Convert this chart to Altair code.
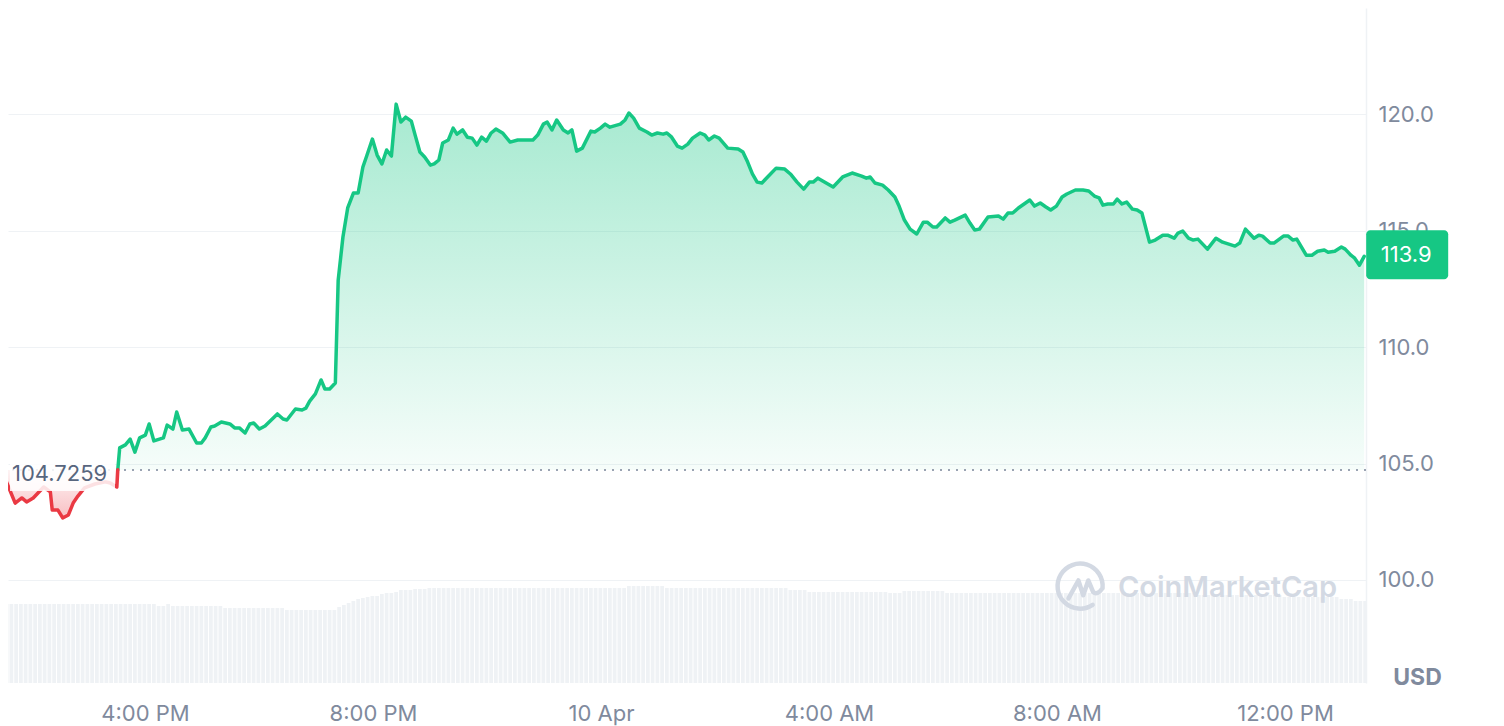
import altair as alt
import pandas as pd

# ---------------- data ----------------
START = "2024-04-09 13:27:24"
BASELINE = 104.7259
CROSS_MINUTE = 124  # where the price crosses the opening (baseline) value

MINUTES = [
    0, 3, 16, 23, 28, 35, 39, 46, 53, 55, 61, 66, 72, 77, 82, 89, 100, 111, 116, 123, 124,
    126, 132, 137, 142, 147, 153, 157, 162, 172, 176, 182, 186, 192, 199, 207, 212, 216, 222, 226, 233,
    242, 247, 252, 258, 263, 267, 273, 279, 292, 298, 302, 311, 318, 322, 326, 332, 338, 342, 347, 353,
    356, 361, 366, 372, 377, 382, 386, 392, 397, 402, 407, 412, 417, 422, 427, 433, 437, 442, 447, 453,
    457, 462, 466, 472, 477, 481, 487, 492, 497, 502, 507, 512, 517, 522, 529, 537, 545, 561, 566, 572,
    576, 581, 586, 593, 598, 602, 607, 613, 622, 626, 632, 637, 642, 653, 658, 662, 667, 673, 681, 686,
    692, 698, 702, 707, 713, 718, 724,
    729, 737, 742, 746, 752, 757, 766, 777, 782, 787, 792, 797, 802, 808, 817, 826, 832, 839, 846, 852,
    856, 861, 866, 877, 887, 897, 907, 912, 916, 921, 929, 935, 942, 946, 952, 958, 965, 972, 976, 982,
    986, 995, 1000, 1005, 1016, 1021, 1026, 1031, 1040, 1051, 1056, 1061, 1066, 1072, 1084, 1089, 1095, 1101, 1106, 1112,
    1118, 1123, 1132, 1140, 1146, 1152, 1157, 1161, 1166, 1172, 1176, 1181, 1186, 1192, 1197, 1202, 1210, 1216, 1224, 1229,
    1236, 1240, 1245, 1251, 1256, 1261, 1271, 1280, 1287, 1300, 1305, 1311, 1320, 1325, 1329, 1337, 1341, 1351, 1356, 1361,
    1365, 1375, 1381, 1387, 1394, 1398, 1405, 1412, 1416, 1422, 1426, 1431, 1436,
]

PRICES = [
    104.76, 104.59, 103.30, 103.52, 103.35, 103.52, 103.69, 103.99, 103.78, 103.00, 103.00, 102.66, 102.79, 103.30, 103.60, 103.95, 104.12, 104.21, 104.16, 103.99, 104.73,
    105.67, 105.80, 106.05, 105.49, 106.10, 106.22, 106.70, 105.97, 106.10, 106.65, 106.48, 107.21, 106.44, 106.48, 105.88, 105.88, 106.10, 106.57, 106.61, 106.78,
    106.70, 106.53, 106.53, 106.31, 106.70, 106.74, 106.48, 106.61, 107.13, 106.91, 106.87, 107.34, 107.30, 107.38, 107.68, 107.99, 108.59, 108.20, 108.20, 108.46,
    112.88, 114.73, 115.98, 116.62, 116.62, 117.74, 118.21, 118.94, 118.25, 117.87, 118.47, 118.21, 120.44, 119.67, 119.88, 119.71, 119.11, 118.38, 118.17, 117.82,
    117.87, 118.04, 118.77, 118.90, 119.41, 119.15, 119.33, 119.02, 118.98, 118.68, 119.02, 118.85, 119.20, 119.37, 119.20, 118.81, 118.90, 118.90, 119.11, 119.58,
    119.67, 119.33, 119.76, 119.33, 119.20, 119.33, 118.42, 118.55, 119.28, 119.24, 119.41, 119.58, 119.45, 119.58, 119.76, 120.06, 119.84, 119.41, 119.24, 119.11,
    119.20, 119.15, 119.20, 119.02, 118.64, 118.55, 118.72,
    118.98, 119.20, 119.11, 118.90, 119.07, 118.98, 118.55, 118.51, 118.38, 117.95, 117.44, 117.09, 117.05, 117.31, 117.69, 117.65, 117.44, 117.09, 116.79, 117.09,
    117.09, 117.26, 117.14, 116.88, 117.31, 117.48, 117.35, 117.26, 117.31, 117.05, 116.96, 116.75, 116.45, 116.10, 115.46, 115.07, 114.86, 115.37, 115.37, 115.16,
    115.16, 115.55, 115.37, 115.46, 115.67, 115.33, 115.03, 115.07, 115.59, 115.63, 115.50, 115.76, 115.76, 115.98, 116.32, 116.06, 116.19, 116.02, 115.89, 116.06,
    116.45, 116.58, 116.75, 116.75, 116.71, 116.49, 116.41, 116.10, 116.15, 116.15, 116.36, 116.15, 116.23, 115.93, 115.89, 115.76, 114.51, 114.60, 114.81, 114.81,
    114.68, 114.90, 114.99, 114.68, 114.60, 114.64, 114.21, 114.68, 114.51, 114.34, 114.47, 115.07, 114.68, 114.81, 114.77, 114.47, 114.47, 114.77, 114.77, 114.60,
    114.64, 113.95, 113.95, 114.12, 114.17, 114.08, 114.12, 114.30, 114.21, 113.95, 113.82, 113.52, 113.90,
]

# rolling 24h volume, one value per 5-minute slot (relative units), 12 per hour
VOLUME = [
    79, 79, 79, 79, 79, 79, 79, 79, 79, 79, 79, 79,
    79, 79, 79, 79, 79, 79, 79, 79, 79, 79, 79, 79,
    79, 79, 79, 79, 79, 79, 79, 79, 79, 77, 77, 79,
    77, 77, 77, 77, 77, 77, 77, 77, 77, 77, 77, 75,
    75, 75, 75, 75, 75, 75, 75, 75, 75, 75, 75, 75,
    73, 73, 73, 73, 73, 73, 73, 73, 73, 73, 73, 76,
    78, 80, 82, 84, 85, 86, 87, 87, 89, 90, 90, 91,
    93, 93, 93, 94, 94, 94, 95, 95, 95, 95, 95, 95,
    95, 95, 95, 95, 95, 95, 95, 95, 95, 95, 95, 95,
    95, 95, 95, 95, 95, 95, 95, 95, 95, 95, 95, 95,
    95, 95, 95, 95, 95, 95, 95, 95, 95, 95, 95, 95,
    97, 97, 97, 97, 97, 97, 97, 97, 95, 95, 95, 95,
    95, 95, 95, 95, 95, 95, 95, 95, 95, 95, 95, 95,
    95, 95, 95, 95, 95, 95, 95, 95, 95, 95, 93, 93,
    93, 93, 91, 91, 91, 91, 91, 91, 91, 91, 91, 91,
    91, 91, 91, 91, 91, 91, 91, 90, 90, 90, 92, 92,
    92, 92, 92, 92, 92, 92, 92, 90, 90, 90, 90, 90,
    90, 90, 90, 90, 90, 90, 90, 90, 90, 90, 90, 90,
    90, 90, 90, 90, 90, 90, 90, 90, 90, 90, 90, 90,
    90, 90, 90, 90, 90, 90, 90, 90, 90, 90, 90, 90,
    90, 90, 90, 90, 90, 90, 90, 90, 90, 90, 90, 90,
    88, 88, 88, 88, 88, 88, 88, 88, 88, 88, 88, 88,
    88, 88, 88, 88, 88, 88, 86, 86, 86, 86, 86, 86,
    86, 86, 86, 86, 86, 86, 84, 84, 84, 82, 82, 82,
]

Y_TICKS = [100, 105, 110, 115, 120]
X_TICK_HOURS = [(9, 16), (9, 20), (10, 0), (10, 4), (10, 8), (10, 12)]

assert len(MINUTES) == len(PRICES)

# ---------------- frames ----------------
t0 = pd.Timestamp(START)
price_df = pd.DataFrame({
    "time": t0 + pd.to_timedelta(MINUTES, unit="min"),
    "price": PRICES,
})
cross_t = t0 + pd.Timedelta(minutes=CROSS_MINUTE)
down_df = price_df[price_df["time"] <= cross_t]
up_df = price_df[price_df["time"] >= cross_t]
last_df = price_df.tail(1)

slot_start = t0 + pd.to_timedelta([5 * i for i in range(len(VOLUME))], unit="min")
vol_df = pd.DataFrame({
    "start": slot_start,
    "end": slot_start + pd.Timedelta(minutes=5),
    "volume": VOLUME,
})

X_DOMAIN = [
    alt.DateTime(year=2024, month=4, date=9, hours=13, minutes=35, seconds=50),
    alt.DateTime(year=2024, month=4, date=10, hours=13, minutes=25, seconds=18),
]
base_df = pd.DataFrame({"time": [pd.Timestamp("2024-04-09 13:35:50")], "price": [BASELINE]})

W, H = 1358, 675
GREEN = "#16c784"
RED = "#ea3943"
GRAY = "#808a9d"
FONT = "Inter"

X_AXIS = alt.Axis(
    values=[alt.DateTime(year=2024, month=4, date=d, hours=h) for d, h in X_TICK_HOURS],
    labelExpr="hours(datum.value) == 0 ? timeFormat(datum.value, '%-d %b') : timeFormat(datum.value, '%-I:%M %p')",
    title=None, grid=False, ticks=False, domain=False,
    labelFont=FONT, labelFontSize=22, labelColor=GRAY, labelPadding=20,
    labelOverlap=False, labelFlush=False,
)
Y_AXIS = alt.Axis(
    orient="right", values=Y_TICKS, format=".1f",
    grid=True, gridColor="#eff2f5", gridWidth=1,
    ticks=False, domain=True, domainColor="#eff2f5", domainWidth=1.5,
    labelFont=FONT, labelFontSize=22, labelColor=GRAY, labelPadding=12,
    title="USD", titleAngle=0, titleFont=FONT, titleFontSize=23, titleFontWeight="bold",
    titleColor=GRAY, titleAlign="center", titleBaseline="alphabetic", titleX=51, titleY=676,
)
x_enc = alt.X("time:T", scale=alt.Scale(domain=X_DOMAIN), axis=X_AXIS)
y_enc = alt.Y("price:Q", scale=alt.Scale(domain=[95.57, 124.57], nice=False, zero=False), axis=Y_AXIS)

# ---------------- volume (own scale, bars rise from the bottom) ----------------
VOL_SCALE_MAX = 675
volume = alt.Chart(vol_df).mark_bar(color="#eff2f5", clip=True, x2Offset=-1).encode(
    x=alt.X("start:T", scale=alt.Scale(domain=X_DOMAIN), axis=X_AXIS),
    x2="end:T",
    y=alt.Y("volume:Q", scale=alt.Scale(domain=[0, VOL_SCALE_MAX], nice=False), axis=None),
    y2=alt.datum(0),
)

# ---------------- price ----------------
green_fill = alt.Gradient(
    gradient="linear", x1=0, x2=0, y1=0, y2=1,
    stops=[alt.GradientStop(color="rgba(22,199,132,0.38)", offset=0),
           alt.GradientStop(color="rgba(22,199,132,0.04)", offset=1)],
)
red_fill = alt.Gradient(
    gradient="linear", x1=0, x2=0, y1=0, y2=1,
    stops=[alt.GradientStop(color="rgba(234,57,67,0.05)", offset=0),
           alt.GradientStop(color="rgba(234,57,67,0.32)", offset=1)],
)

up_area = alt.Chart(up_df).mark_area(color=green_fill, clip=True).encode(
    x=x_enc, y=y_enc, y2=alt.datum(BASELINE))
down_area = alt.Chart(down_df).mark_area(color=red_fill, clip=True).encode(
    x=x_enc, y=y_enc, y2=alt.datum(BASELINE))

base_rule = alt.Chart(base_df).mark_rule(
    color="#9aa3b2", strokeWidth=2, strokeDash=[2, 6]).encode(y=alt.Y("price:Q"))

up_line = alt.Chart(up_df).mark_line(
    color=GREEN, strokeWidth=3.5, strokeJoin="round", strokeCap="round", clip=True).encode(x=x_enc, y=y_enc)
down_line = alt.Chart(down_df).mark_line(
    color=RED, strokeWidth=3.5, strokeJoin="round", strokeCap="round", clip=True).encode(x=x_enc, y=y_enc)

base_box = alt.Chart(base_df).mark_rect(
    color="white", opacity=0.85, xOffset=2, x2Offset=107, yOffset=-8, y2Offset=21).encode(
    x="time:T", x2="time:T", y="price:Q", y2="price:Q")
base_text = alt.Chart(base_df).mark_text(
    align="left", baseline="middle", dx=4, dy=4, font=FONT, fontSize=22, color="#58667e").encode(
    x="time:T", y="price:Q", text=alt.Text("price:Q", format=".4f"))

tag_box = alt.Chart(last_df).mark_rect(
    color=GREEN, cornerRadius=4, xOffset=2, x2Offset=84, yOffset=-26, y2Offset=23).encode(
    x="time:T", x2="time:T", y="price:Q", y2="price:Q")
tag_text = alt.Chart(last_df).mark_text(
    align="center", baseline="middle", dx=42, dy=-1, font=FONT, fontSize=22, color="white").encode(
    x="time:T", y="price:Q", text=alt.Text("price:Q", format=".1f"))

one = pd.DataFrame({"k": [0]})
LOGO = ("M0.98,0.1 A0.98,0.98 0 1 0 0.55,0.82 "
        "M-0.5,0.54 L-0.07,-0.24 L0.14,0.4 L0.36,-0.24 L0.57,0.26 Q0.75,0.42 0.98,0.1")
logo = alt.Chart(one).mark_point(
    shape=LOGO, size=2116, filled=False, color="#d3d9e3", strokeWidth=4.5,
    strokeCap="round", strokeJoin="round", opacity=1).encode(
    x=alt.value(1072), y=alt.value(578))
wm_text = alt.Chart(one).mark_text(
    text="CoinMarketCap", align="left", baseline="middle", font=FONT, fontSize=29,
    fontWeight=600, color="#d3d9e3").encode(x=alt.value(1110), y=alt.value(580))

price_layer = alt.layer(
    up_area, down_area, base_rule, up_line, down_line,
    base_box, base_text, tag_box, tag_text, logo, wm_text,
)

chart = (
    alt.layer(volume, price_layer)
    .resolve_scale(y="independent")
    .properties(
        width=W, height=H, background="white",
        autosize=alt.AutoSizeParams(type="none"),
        padding={"left": 0, "top": 0, "right": 100, "bottom": 43},
    )
    .configure_view(strokeWidth=0)
)

chart.save("out.html", embed_options={"renderer": "svg", "actions": False})
